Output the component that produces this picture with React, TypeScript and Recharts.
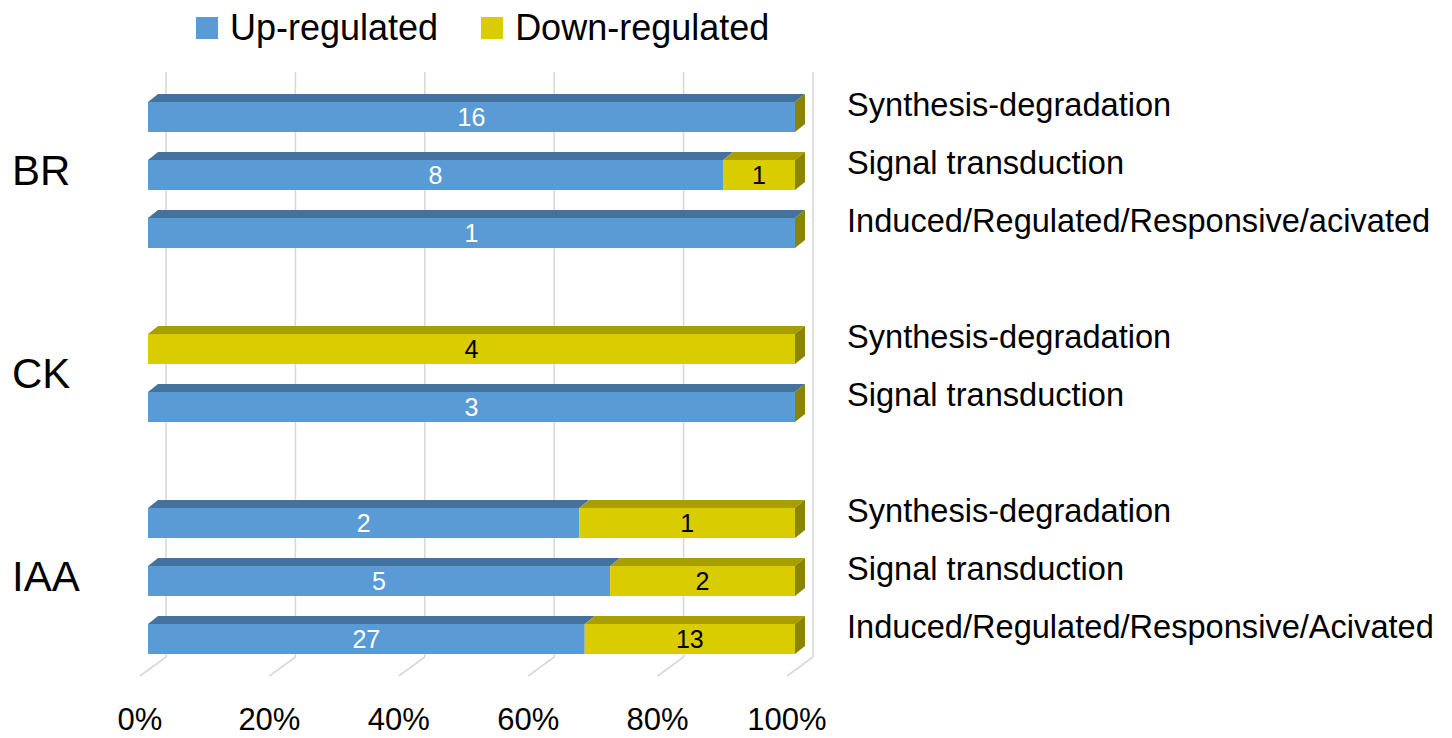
import React from 'react';
import { BarChart, Bar, XAxis, YAxis, CartesianGrid, Legend, LabelList, ReferenceArea } from 'recharts';

const rowIds = ['BR-1', 'BR-2', 'BR-3', 'gap-1', 'CK-1', 'CK-2', 'gap-2', 'IAA-1', 'IAA-2', 'IAA-3'];
const processLabels = [
  'Synthesis-degradation',
  'Signal transduction',
  'Induced/Regulated/Responsive/acivated',
  '',
  'Synthesis-degradation',
  'Signal transduction',
  '',
  'Synthesis-degradation',
  'Signal transduction',
  'Induced/Regulated/Responsive/Acivated',
];
const upCounts = [16, 8, 1, 0, 0, 3, 0, 2, 5, 27];
const downCounts = [0, 1, 0, 0, 4, 0, 0, 1, 2, 13];
const groupNames = ['BR', 'CK', 'IAA'];
const groupFirstRow = ['BR-1', 'CK-1', 'IAA-1'];
const groupLastRow = ['BR-3', 'CK-2', 'IAA-3'];
const percentTicks = [0, 0.2, 0.4, 0.6, 0.8, 1];
const seriesNames = ['Up-regulated', 'Down-regulated'];

const data = rowIds.map((id, i) => ({
  id,
  process: processLabels[i],
  up: upCounts[i],
  down: downCounts[i],
}));

const FONT = '"Liberation Sans", Arial, Helvetica, sans-serif';
const BLUE = '#5B9BD5';
const BLUE_TOP = '#43729F';
const YELLOW = '#D9CC00';
const YELLOW_TOP = '#A89E00';
const OLIVE_SIDE = '#8B8400';
const GRID = '#D9D9D9';
const DX = 10;
const DY = 8;

function makeShape(front: string, top: string, alwaysSide: boolean) {
  return (props: any) => {
    const { x, y, width, height, payload } = props;
    if (!(width > 0.5) || !(height > 0)) return <g />;
    const drawSide = alwaysSide || (payload && payload.down === 0);
    const topPts = `${x},${y} ${x + width},${y} ${x + width + DX},${y - DY} ${x + DX},${y - DY}`;
    const sidePts = `${x + width},${y} ${x + width + DX},${y - DY} ${x + width + DX},${y + height - DY} ${x + width},${y + height}`;
    return (
      <g>
        <rect x={x} y={y} width={width} height={height} fill={front} />
        <polygon points={topPts} fill={top} />
        {drawSide ? <polygon points={sidePts} fill={OLIVE_SIDE} /> : null}
      </g>
    );
  };
}

const upShape = makeShape(BLUE, BLUE_TOP, false);
const downShape = makeShape(YELLOW, YELLOW_TOP, true);

const GridLine = (props: any) => {
  const { x1, y1, y2 } = props;
  const d = `M${x1 + 18},${y1 - 16} L${x1 + 18},${y2 - 11} L${x1 - 8},${y2 + 8}`;
  return <path key={props.key} d={d} stroke={GRID} strokeWidth={1.6} fill="none" />;
};

const XTick = (props: any) => {
  const { x, y, payload } = props;
  return (
    <text x={x - 8} y={y + 62} textAnchor="middle" fontSize={31} fontFamily={FONT} fill="#000">
      {`${Math.round(payload.value * 100)}%`}
    </text>
  );
};

const ProcessTick = (props: any) => {
  const { x, y, payload } = props;
  const row = data.find((d) => d.id === payload.value);
  if (!row || !row.process) return <g />;
  return (
    <text x={x + 52} y={y - 1} textAnchor="start" fontSize={32.6} fontFamily={FONT} fill="#000">
      {row.process}
    </text>
  );
};

const makeGroupLabel = (text: string) => (props: any) => {
  const vb = props.viewBox || props;
  if (!vb || vb.x == null) return null;
  const cy = vb.y + vb.height / 2;
  return (
    <text x={vb.x - 136} y={cy + 10} textAnchor="start" fontSize={42} fontFamily={FONT} fill="#000">
      {text}
    </text>
  );
};

const LegendContent = (props: any) => {
  const items = [
    { name: seriesNames[0], color: BLUE },
    { name: seriesNames[1], color: YELLOW },
  ];
  return (
    <div style={{ display: 'flex', alignItems: 'center', height: 56, fontFamily: FONT, fontSize: 36, color: '#000' }}>
      {items.map((it) => (
        <div key={it.name} style={{ display: 'flex', alignItems: 'center', marginRight: 43 }}>
          <span style={{ display: 'inline-block', width: 22, height: 22, background: it.color, marginRight: 12 }} />
          <span style={{ lineHeight: '56px', whiteSpace: 'nowrap' }}>{it.name}</span>
        </div>
      ))}
    </div>
  );
};

const hideZero = (v: any) => (v === 0 || v == null ? '' : v);

export default function App() {
  return (
    <div style={{ position: 'absolute', left: 0, top: 0, width: 1452, height: 738, background: '#fff' }}>
      <BarChart
        width={1452}
        height={738}
        data={data}
        layout="vertical"
        stackOffset="expand"
        margin={{ top: 88, right: 57, bottom: 10, left: 148 }}
        barCategoryGap={0}
      >
        <CartesianGrid horizontal={false} vertical={GridLine} />
        <XAxis
          type="number"
          domain={[0, 1]}
          ticks={percentTicks}
          interval={0}
          axisLine={false}
          tickLine={false}
          tickSize={0}
          tickMargin={0}
          height={60}
          tick={<XTick />}
        />
        <YAxis
          yAxisId="rows"
          type="category"
          dataKey="id"
          orientation="right"
          width={600}
          axisLine={false}
          tickLine={false}
          tickSize={0}
          tickMargin={0}
          interval={0}
          tick={<ProcessTick />}
        />
        {groupNames.map((g, i) => (
          <ReferenceArea
            key={g}
            yAxisId="rows"
            y1={groupFirstRow[i]}
            y2={groupLastRow[i]}
            fill="none"
            fillOpacity={0}
            stroke="none"
            ifOverflow="visible"
            label={{ content: makeGroupLabel(g) }}
          />
        ))}
        <Legend
          layout="horizontal"
          verticalAlign="middle"
          align="center"
          content={<LegendContent />}
          wrapperStyle={{ top: 0, left: 196, width: 800, height: 56 }}
        />
        <Bar
          yAxisId="rows"
          dataKey="up"
          name={seriesNames[0]}
          stackId="s"
          fill={BLUE}
          barSize={30}
          shape={upShape}
          isAnimationActive={false}
        >
          <LabelList dataKey="up" position="center" fill="#FFFFFF" fontSize={25} fontFamily={FONT} formatter={hideZero} />
        </Bar>
        <Bar
          yAxisId="rows"
          dataKey="down"
          name={seriesNames[1]}
          stackId="s"
          fill={YELLOW}
          barSize={30}
          shape={downShape}
          isAnimationActive={false}
        >
          <LabelList dataKey="down" position="center" fill="#000000" fontSize={25} fontFamily={FONT} formatter={hideZero} />
        </Bar>
      </BarChart>
    </div>
  );
}
